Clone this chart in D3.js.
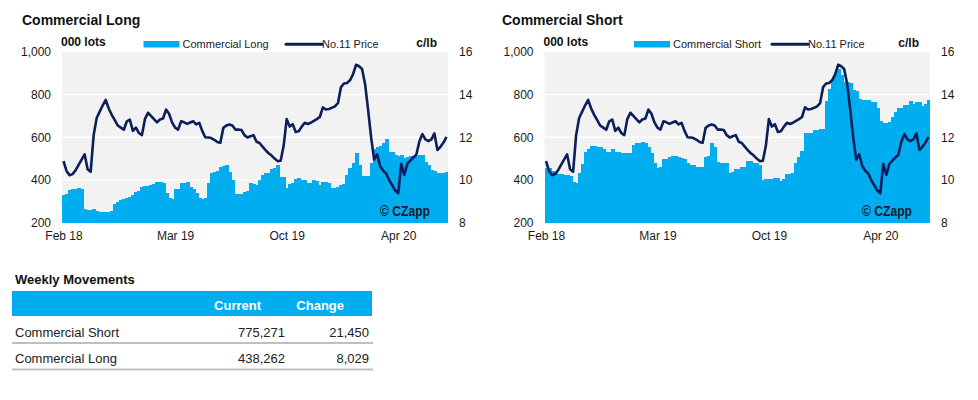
<!DOCTYPE html>
<html><head><meta charset="utf-8">
<script src="https://cdn.jsdelivr.net/npm/d3@7"></script>
<style>
body{margin:0;background:#fff;}
svg{display:block;font-family:"Liberation Sans",Arial,sans-serif;}
</style></head>
<body><svg id="c" width="978" height="400"></svg>
<script>
// ---------- DATA ----------
const xTickIdx = [0, 37, 74, 111];
const xTickLabels = ["Feb 18", "Mar 19", "Oct 19", "Apr 20"];
const leftTicks = [200, 400, 600, 800, 1000];
const rightTicks = [8, 10, 12, 14, 16];

// Commercial Long, 000 lots
const commercialLong = [
330,335,352,355,358,360,358,262,260,258,262,252,250,248,248,250,255,285,295,305,
310,315,320,328,342,350,365,370,372,376,380,390,392,384,337,315,312,355,358,384,
387,388,365,358,338,315,312,314,385,430,438,442,462,466,468,438,400,332,334,336,
345,348,384,380,376,400,425,430,432,450,455,470,415,415,360,380,386,405,408,400,
398,387,385,400,396,376,392,390,384,360,362,365,378,380,423,454,477,524,470,420,
420,420,480,547,555,560,574,594,532,530,516,514,518,501,505,510,512,514,516,516,
485,470,445,440,432,430,430,438];

// Commercial Short, 000 lots
const commercialShort = [
454,454,440,431,427,427,425,423,420,392,384,430,473,532,545,558,558,556,552,543,
532,530,543,532,530,527,527,524,524,563,571,575,579,575,555,524,477,457,460,496,
498,505,512,510,509,501,500,477,472,470,462,462,462,509,510,571,555,485,480,477,
477,434,436,449,449,462,462,488,488,480,480,470,400,402,402,405,407,407,396,402,
427,428,434,480,509,535,618,620,622,633,633,641,641,770,828,875,899,922,891,860,
860,855,821,815,778,776,774,774,766,766,735,677,665,665,672,696,719,739,739,750,
752,769,758,766,766,746,754,775];

// No.11 Price, c/lb
const price = [
10.88,10.42,10.22,10.27,10.45,10.7,10.95,11.2,10.5,10.38,12.1,12.9,13.2,13.5,13.75,13.35,13.05,12.8,12.55,12.45,
12.35,12.75,12.83,12.3,12.45,12.2,12.1,12.85,13.15,13.0,12.85,12.7,12.83,12.88,13.3,13.1,12.7,12.45,12.36,12.75,
12.7,12.63,12.69,12.75,12.6,12.68,12.3,12.0,11.99,11.96,11.88,11.78,11.74,12.44,12.55,12.6,12.55,12.36,12.36,12.34,
12.1,11.99,12.05,12.1,11.79,11.73,11.56,11.4,11.25,11.14,11.0,10.88,10.9,11.6,12.85,12.5,12.61,12.25,12.28,12.5,
12.68,12.62,12.68,12.77,12.85,12.95,13.4,13.3,13.33,13.38,13.45,13.6,14.35,14.52,14.55,14.67,14.95,15.4,15.33,15.2,
14.5,13.3,12.0,10.95,11.2,10.65,10.43,10.3,9.98,9.75,9.5,9.37,10.75,10.23,10.75,10.9,11.05,11.18,11.8,12.15,
11.9,11.82,11.9,12.18,11.4,11.55,11.75,12.02];

const tableHeader = ["Current", "Change"];
const tableRows = [
  ["Commercial Short", "775,271", "21,450"],
  ["Commercial Long", "438,262", "8,029"]
];

// ---------- STYLE ----------
const BAR = "#00aeef";
const LINE = "#0c1f5a";
const BG = "#f2f2f2";
const svg = d3.select("#c");

function drawChart(o) {
  const g = svg.append("g");
  const x = d3.scaleBand().domain(d3.range(o.values.length)).range([o.x0, o.x1]).padding(0);
  const y = d3.scaleLinear().domain([200, 1000]).range([222.5, 52]);
  const yp = d3.scaleLinear().domain([8, 16]).range([222.5, 52]);

  g.append("rect").attr("x", o.x0).attr("y", 52).attr("width", o.x1 - o.x0).attr("height", 170.5).attr("fill", BG);
  g.selectAll(".grid").data([400, 600, 800]).join("line")
    .attr("x1", o.x0).attr("x2", o.x1).attr("y1", d => y(d)).attr("y2", d => y(d))
    .attr("stroke", "#fff").attr("stroke-width", 1.3);

  g.append("g").attr("shape-rendering", "crispEdges")
    .selectAll("rect").data(o.values).join("rect")
    .attr("x", (d, i) => x(i)).attr("width", (d, i) => i === o.values.length - 1 ? x.bandwidth() : x.bandwidth() + 1)
    .attr("y", d => y(d)).attr("height", d => y(200) - y(d))
    .attr("fill", BAR);

  g.append("path").datum(price)
    .attr("d", d3.line().x((d, i) => x(i) + x.bandwidth() / 2).y(d => yp(d)))
    .attr("fill", "none").attr("stroke", LINE).attr("stroke-width", 2.6)
    .attr("stroke-linejoin", "round");

  // axes
  const ax = g.append("g").attr("transform", `translate(${o.x0},0)`)
    .call(d3.axisLeft(y).tickValues(leftTicks).tickSize(0).tickPadding(11).tickFormat(d3.format(",")));
  const ax2 = g.append("g").attr("transform", `translate(${o.x1},0)`)
    .call(d3.axisRight(yp).tickValues(rightTicks).tickSize(0).tickPadding(11));
  const ax3 = g.append("g").attr("transform", `translate(0,222.5)`)
    .call(d3.axisBottom(d3.scaleOrdinal().domain(xTickIdx).range(xTickIdx.map(i => x(i) + x.bandwidth() / 2)))
      .tickValues(xTickIdx).tickSize(0).tickPadding(9).tickFormat((d, i) => xTickLabels[i]));
  [ax, ax2, ax3].forEach(a => {
    a.select(".domain").remove();
    a.selectAll("text").attr("font-size", 12).attr("fill", "#1a1a1a").attr("font-family", "Liberation Sans, Arial, sans-serif");
  });

  // titles & legend
  g.append("text").attr("x", o.titleX).attr("y", 25).attr("font-size", 14).attr("font-weight", "bold").attr("fill", "#111").text(o.title);
  g.append("text").attr("x", o.x0 - 1).attr("y", 46).attr("font-size", 12).attr("font-weight", "bold").attr("fill", "#111").text("000 lots");
  g.append("text").attr("x", o.x1 - 11).attr("y", 47).attr("text-anchor", "end").attr("font-size", 12).attr("font-weight", "bold").attr("fill", "#111").text("c/lb");
  g.append("rect").attr("x", o.legX).attr("y", 41).attr("width", 36).attr("height", 6.5).attr("fill", BAR);
  g.append("text").attr("x", o.legX + 39).attr("y", 47.5).attr("font-size", 11).attr("fill", "#222").text(o.title);
  g.append("line").attr("x1", o.legX2).attr("x2", o.legX2 + 36).attr("y1", 44.3).attr("y2", 44.3).attr("stroke", LINE).attr("stroke-width", 3).attr("stroke-linecap", "round");
  g.append("text").attr("x", o.legX2 + 36).attr("y", 47.5).attr("font-size", 11).attr("fill", "#222").text("No.11 Price");
  g.append("text").attr("x", o.x1 - 68).attr("y", 216).attr("font-size", 15).attr("font-weight", "bold")
    .attr("textLength", 50).attr("lengthAdjust", "spacingAndGlyphs")
    .attr("fill", "#1a1a2a").text("© CZapp");
}

drawChart({values: commercialLong, x0: 62, x1: 448, title: "Commercial Long", titleX: 22, legX: 143.5, legX2: 286});
drawChart({values: commercialShort, x0: 544.5, x1: 930, title: "Commercial Short", titleX: 502, legX: 634, legX2: 772});

// ---------- TABLE ----------
const t = svg.append("g");
t.append("text").attr("x", 15).attr("y", 284).attr("font-size", 13).attr("font-weight", "bold").attr("fill", "#111").text("Weekly Movements");
t.append("rect").attr("x", 12).attr("y", 291).attr("width", 360).attr("height", 25).attr("fill", BAR);
const colX = [261, 344];
tableHeader.forEach((h, i) => t.append("text").attr("x", colX[i]).attr("y", 309.5).attr("text-anchor", "end")
  .attr("font-size", 13).attr("font-weight", "bold").attr("fill", "#fff").text(h));
const rowY = [337, 363];
const sepY = [343, 369.5];
tableRows.forEach((r, j) => {
  t.append("text").attr("x", 15).attr("y", rowY[j]).attr("font-size", 13).attr("fill", "#222").text(r[0]);
  t.append("text").attr("x", 285).attr("y", rowY[j]).attr("text-anchor", "end").attr("font-size", 13).attr("fill", "#222").text(r[1]);
  t.append("text").attr("x", 369).attr("y", rowY[j]).attr("text-anchor", "end").attr("font-size", 13).attr("fill", "#222").text(r[2]);
  t.append("line").attr("x1", 12).attr("x2", 373).attr("y1", sepY[j]).attr("y2", sepY[j]).attr("stroke", "#bfbfbf").attr("stroke-width", 2);
});
</script></body></html>
